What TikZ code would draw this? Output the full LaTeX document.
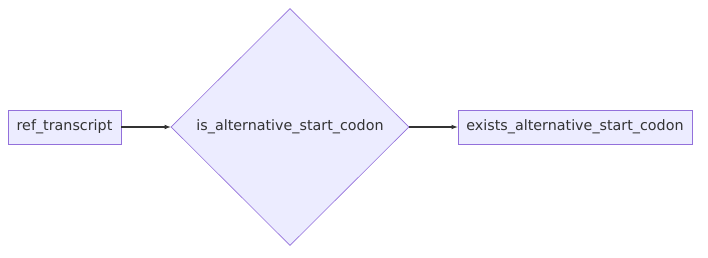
\documentclass[tikz,border=0pt]{standalone}
\usepackage{fontspec}
\setmainfont{DejaVu Sans}
\usetikzlibrary{arrows,shapes.geometric}
\definecolor{boxfill}{HTML}{ECECFF}
\definecolor{boxline}{HTML}{9370DB}
\definecolor{edgecol}{HTML}{333333}

\begin{document}
\begin{tikzpicture}[x=1pt,y=-1pt,
    every node/.style={font=\fontsize{14.3}{17}\selectfont, text=edgecol},
    proc/.style={draw=boxline, fill=boxfill, line width=.8pt, minimum height=34pt, inner sep=0pt},
    test/.style={draw=boxline, fill=boxfill, line width=.6pt, diamond, aspect=1, inner sep=0pt,
        minimum width=238pt, minimum height=237pt},
    flow/.style={draw=edgecol, line width=1.1pt, -latex}]
        \useasboundingbox (0,0) rectangle (708,257);

        \node (ref) at (64.5,127) [proc, minimum width=113pt] {ref\_transcript};
        \node (isalt) at (290,127) [test] {is\_alternative\_start\_codon};
        \node (exists) at (575,127) [proc, minimum width=234pt] {exists\_alternative\_start\_codon};

        \draw[flow] (ref) -- (isalt);
        \draw[flow] (isalt) -- (exists);
\end{tikzpicture}
\end{document}
